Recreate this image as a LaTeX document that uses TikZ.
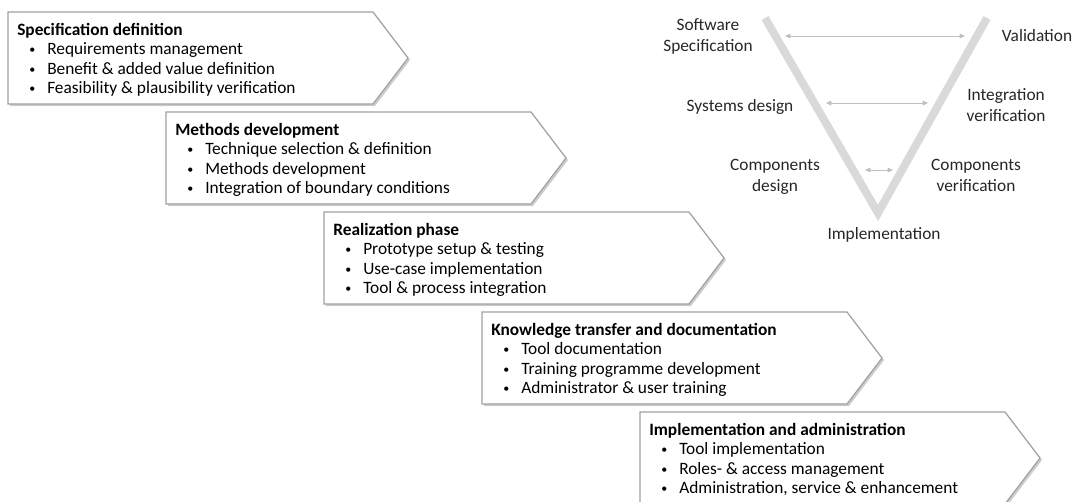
\documentclass[tikz,border=0pt]{standalone}
\usepackage{fontspec}
\setmainfont{Carlito}
\usetikzlibrary{arrows.meta,shadows}
\definecolor{boxline}{HTML}{A0A0A0}
\definecolor{vgray}{HTML}{D9D9D9}
\definecolor{arrgray}{HTML}{BFBFBF}
\definecolor{labtext}{HTML}{262626}
\newcommand{\bitem}{\hspace*{9pt}\makebox[13.5pt][l]{\raisebox{0.15ex}{\fontsize{9}{9}\selectfont\textbullet}}}

\begin{document}
\begin{tikzpicture}[x=0.75pt,y=-0.75pt,
  phase/.style={draw=boxline, line width=0.9pt, fill=white, drop shadow={shadow xshift=1.5pt,shadow yshift=-1.5pt,opacity=0.4}},
  phasetext/.style={anchor=north west, inner sep=0pt, align=left, font=\fontsize{13}{14.6}\selectfont},
  vlabel/.style={align=center, text=labtext, font=\fontsize{13}{15.75}\selectfont},
  link/.style={arrgray, line width=0.6pt, {Triangle[length=4pt,width=3.5pt]}-{Triangle[length=4pt,width=3.5pt]}}]
\useasboundingbox (0,0) rectangle (1078,501);
% phase chevrons
\draw[phase] (8,12) -- ++(365,0) -- ++(35,46) -- ++(-35,46) -- ++(-365,0) -- cycle;
\node[phasetext] (spec) at (17,23) {\textbf{Specification definition}\\
  \bitem Requirements management\\ \bitem Benefit \& added value definition\\ \bitem Feasibility \& plausibility verification};
\draw[phase] (166,112) -- ++(365,0) -- ++(35,46) -- ++(-35,46) -- ++(-365,0) -- cycle;
\node[phasetext] (meth) at (175,123) {\textbf{Methods development}\\
  \bitem Technique selection \& definition\\ \bitem Methods development\\ \bitem Integration of boundary conditions};
\draw[phase] (324,212) -- ++(365,0) -- ++(35,46) -- ++(-35,46) -- ++(-365,0) -- cycle;
\node[phasetext] (real) at (333,223) {\textbf{Realization phase}\\
  \bitem Prototype setup \& testing\\ \bitem Use-case implementation\\ \bitem Tool \& process integration};
\draw[phase] (482,312) -- ++(365,0) -- ++(35,46) -- ++(-35,46) -- ++(-365,0) -- cycle;
\node[phasetext] (know) at (491,323) {\textbf{Knowledge transfer and documentation}\\
  \bitem Tool documentation\\ \bitem Training programme development\\ \bitem Administrator \& user training};
\draw[phase] (640,412) -- ++(365,0) -- ++(35,46) -- ++(-35,46) -- ++(-365,0) -- cycle;
\node[phasetext] (admin) at (649,423) {\textbf{Implementation and administration}\\
  \bitem Tool implementation\\ \bitem Roles- \& access management\\ \bitem Administration, service \& enhancement};
% V-model
\draw[vgray, line width=6pt] (765,18) -- (878,213) -- (987,18);
\node[vlabel] (swspec) at (708,36) {Software\\Specification};
\node[vlabel] (valid) at (1037,36) {Validation};
\node[vlabel] (sysdes) at (740,107) {Systems design};
\node[vlabel] (intver) at (1006,105) {Integration\\verification};
\node[vlabel] (compdes) at (775,177) {Components\\design};
\node[vlabel] (compver) at (976,175) {Components\\verification};
\node[vlabel] (impl) at (884,235) {Implementation};
\coordinate (toplft) at (785,36); \coordinate (toprgt) at (965,36);
\coordinate (midlft) at (826,103); \coordinate (midrgt) at (928,103);
\coordinate (lowlft) at (865,170); \coordinate (lowrgt) at (893,170);
\draw[link] (toplft) -- (toprgt);
\draw[link] (midlft) -- (midrgt);
\draw[link] (lowlft) -- (lowrgt);
\end{tikzpicture}
\end{document}
